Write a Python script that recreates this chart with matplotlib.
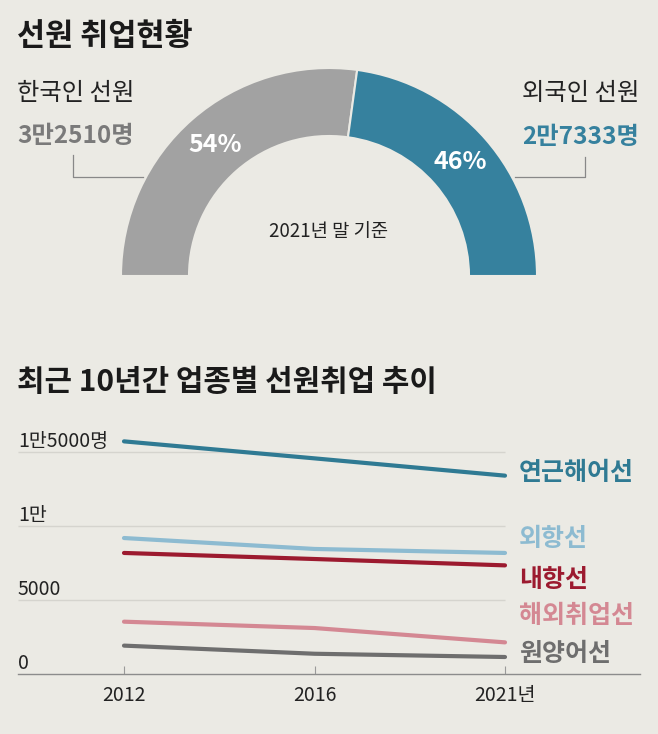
import matplotlib
matplotlib.use("Agg")
import matplotlib.pyplot as plt
from matplotlib.patches import Wedge
import numpy as np

plt.rcParams['font.family'] = ['Noto Sans CJK KR', 'DejaVu Sans']

# ---------------- data ----------------
title1 = "선원 취업현황"
title2 = "최근 10년간 업종별 선원취업 추이"
donut_labels = ["한국인 선원", "외국인 선원"]
donut_counts = [32510, 27333]
donut_count_text = ["3만2510명", "2만7333명"]
donut_note = "2021년 말 기준"

years = ["2012", "2016", "2021년"]
series_names = ["연근해어선", "외항선", "내항선", "해외취업선", "원양어선"]
s_coastal_fishing = [15740, 14590, 13420]
s_ocean_going = [9200, 8460, 8190]
s_coastal_shipping = [8190, 7780, 7350]
s_overseas = [3540, 3110, 2140]
s_deep_sea_fishing = [1920, 1370, 1150]
y_ticks = [0, 5000, 10000, 15000]
y_tick_labels = ["0", "5000", "1만", "1만5000명"]

# ---------------- style ----------------
W, H = 658, 734
BG = "#ebeae4"
GRAY = "#a2a2a2"
BLUE = "#36819e"
series_colors = ["#2f7a93", "#8dbbd1", "#9c1a2f", "#d48893", "#6e6e6e"]
label_y_px = [473, 539, 580, 616, 654]

fig = plt.figure(figsize=(W / 100, H / 100), dpi=100, facecolor=BG)
ov = fig.add_axes([0, 0, 1, 1])
ov.set_xlim(0, W)
ov.set_ylim(0, H)
ov.axis("off")
ov.set_facecolor(BG)


def Y(py):
    return H - py


# titles
ov.text(17, Y(36), title1, fontsize=22, fontweight="bold", color="#1a1a1a",
        ha="left", va="center")
ov.text(17, Y(382), title2, fontsize=21.5, fontweight="bold", color="#1a1a1a",
        ha="left", va="center")

# donut (half)
cx, cy = 329, Y(276)
r_out, r_in = 208, 140
total = sum(donut_counts)
fracs = [c / total for c in donut_counts]
start = 180.0
donut_colors = [GRAY, BLUE]
mids = []
for f, col in zip(fracs, donut_colors):
    end = start - f * 180.0
    ov.add_patch(Wedge((cx, cy), r_out, end, start, width=r_out - r_in,
                       facecolor=col, edgecolor=BG, linewidth=1.5))
    mids.append((start + end) / 2)
    start = end

r_mid = (r_out + r_in) / 2
for f, m in zip(fracs, mids):
    x = cx + r_mid * np.cos(np.radians(m))
    y = cy + r_mid * np.sin(np.radians(m))
    ov.text(x, y, f"{round(f * 100)}%", color="white", fontsize=18,
            fontweight="bold", ha="center", va="center")

ov.text(cx, Y(232), donut_note, fontsize=13.5, color="#222222",
        ha="center", va="center")

# side labels
ov.text(17, Y(93), donut_labels[0], fontsize=17.5, color="#222222",
        ha="left", va="center")
ov.text(17, Y(136), donut_count_text[0], fontsize=17.5, fontweight="bold",
        color="#7a7a7a", ha="left", va="center")
ov.text(639, Y(93), donut_labels[1], fontsize=17.5, color="#222222",
        ha="right", va="center")
ov.text(639, Y(137), donut_count_text[1], fontsize=17.5, fontweight="bold",
        color=BLUE, ha="right", va="center")

# leader lines
ov.plot([73, 73, 143], [Y(155), Y(177), Y(177)], color="#888888", lw=0.9)
ov.plot([585, 585, 515], [Y(157), Y(177), Y(177)], color="#888888", lw=0.9)

# ---------------- line chart ----------------
px_per_unit = 190.5
x0_px = 124
xl = (18 - x0_px) / px_per_unit
xr = 2 + (640 - (x0_px + 2 * px_per_unit)) / px_per_unit
axis_px = 674
px_per_val = 73.9 / 5000
ymax = 16500
top_px = axis_px - ymax * px_per_val

left = 18 / W
right = 640 / W
bottom = (H - axis_px) / H
top = (H - top_px) / H
ax = fig.add_axes([left, bottom, right - left, top - bottom])
ax.set_facecolor("none")
ax.set_xlim(xl, xr)
ax.set_ylim(0, ymax)

xs = np.arange(len(years))
for yt in y_ticks[1:]:
    ax.hlines(yt, xl, xs[-1], color="#d5d4ce", lw=1, zorder=1)

all_series = [s_coastal_fishing, s_ocean_going, s_coastal_shipping,
              s_overseas, s_deep_sea_fishing]
for vals, col in zip(all_series, series_colors):
    ax.plot(xs, vals, color=col, lw=3, solid_capstyle="round", zorder=3)

for yt, lab in zip(y_ticks, y_tick_labels):
    ax.annotate(lab, xy=(xl, yt), xytext=(0, 3.5), textcoords="offset points",
                ha="left", va="baseline", fontsize=14, color="#222222")

for s in ["top", "right", "left"]:
    ax.spines[s].set_visible(False)
ax.spines["bottom"].set_color("#8c8c8c")
ax.spines["bottom"].set_linewidth(1)
ax.set_yticks([])
ax.set_xticks(xs)
ax.set_xticklabels(years, fontsize=14, color="#222222")
ax.tick_params(axis="x", direction="in", length=6, width=0.8, color="#9a9a9a",
               pad=8)

for name, col, py in zip(series_names, series_colors, label_y_px):
    ov.text(519, Y(py), name, fontsize=18, fontweight="bold", color=col,
            ha="left", va="center")

fig.savefig("out.png", dpi=100, facecolor=BG)
